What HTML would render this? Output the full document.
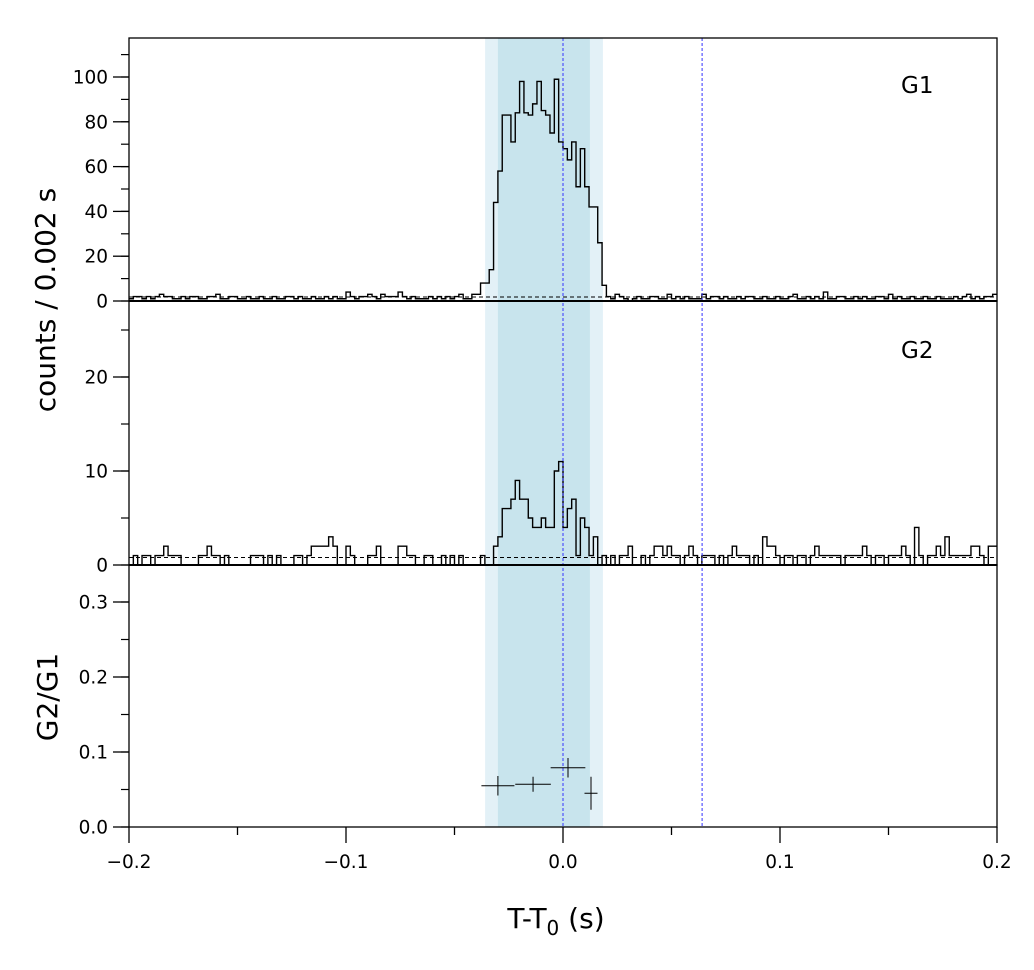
<!DOCTYPE html>
<html><head><meta charset="utf-8"><style>
html,body{margin:0;padding:0;background:#fff}
svg text{font-family:"DejaVu Sans","Liberation Sans",sans-serif;fill:#000}
</style></head><body>
<svg id="chart" width="1034" height="965" viewBox="0 0 1034 965" xmlns="http://www.w3.org/2000/svg"></svg>
<script>
const binWidth = 0.002;
const tStart = -0.2;
const g1Counts = [1,2,2,1,2,1,2,3,2,2,1,1,2,1,2,2,1,1,2,2,
3,1,1,2,2,1,1,2,1,1,2,1,1,2,1,1,2,2,1,2,
1,1,2,1,1,2,1,2,1,1,4,2,1,2,2,3,2,1,3,2,
2,2,4,2,1,2,1,1,1,2,1,2,1,2,1,2,3,1,1,3,
3,8,8,14,44,58,83,83,71,84,98,84,83,88,98,85,83,75,99,71,68,63,71,51,68,51,42,42,26,7,
2,1,3,2,1,0,1,2,1,1,2,2,1,1,3,1,2,1,2,1,
1,1,3,1,2,2,1,2,1,1,2,1,2,2,1,1,2,1,1,2,
1,1,2,3,1,1,2,1,2,1,4,1,1,2,2,1,1,2,1,2,
1,1,2,2,1,3,1,2,1,1,2,1,1,2,1,1,2,1,1,1,
2,1,2,3,1,2,1,2,2,3];
const g2Counts = [0,1,0,1,1,0,1,1,2,1,1,1,0,0,0,0,1,1,2,1,
1,0,1,0,0,0,0,0,1,1,1,0,1,0,1,0,0,0,1,1,
0,1,2,2,2,2,3,2,0,0,2,1,0,0,0,1,1,2,0,0,
0,0,2,2,1,1,0,0,1,1,0,0,1,0,1,0,1,0,0,0,
0,1,0,0,2,3,6,6,7,9,7,7,5,4,4,5,4,4,10,11,4,6,7,1,5,4,1,3,0,1,
0,1,0,1,1,2,0,0,1,0,1,2,2,1,2,1,1,0,1,2,
1,0,1,1,1,0,1,0,1,2,1,1,1,0,1,0,3,2,2,1,
0,1,1,0,1,1,0,1,2,1,1,1,1,1,0,1,1,1,1,2,
1,0,1,1,0,1,1,1,2,1,0,4,1,0,1,1,2,1,3,1,
1,1,1,1,2,2,1,0,2,2];
const g1Bkg = 1.8, g2Bkg = 0.8;
const ratioT = [-0.030, -0.0138, 0.0023, 0.0129];
const ratioTErr = [0.0076, 0.0082, 0.0080, 0.0030];
const ratioV = [0.055, 0.057, 0.079, 0.045];
const ratioVErr = [0.013, 0.010, 0.013, 0.022];
const bandOuter = [-0.0359, 0.0184];
const bandInner = [-0.030, 0.0124];
const vLines = [0.0, 0.0641];
const xTicks = [-0.2, -0.1, 0.0, 0.1, 0.2];
const xTickLabels = ["\u22120.2","\u22120.1","0.0","0.1","0.2"];
const g1Ticks = [0,20,40,60,80,100];
const g2Ticks = [0,10,20];
const rTicks = [0,0.1,0.2,0.3];
const rTickLabels = ["0.0","0.1","0.2","0.3"];

const NS="http://www.w3.org/2000/svg";
const svg=document.getElementById('chart');
const L=129,R=997;
const X=t=>L+(t-tStart)/0.4*(R-L);
const P1={top:38,bot:301,max:(301-38)/2.24};
const P2={top:301,bot:565,max:(565-301)/9.4};
const P3={top:565,bot:827,max:(827-565)/750};
const Y=(p,v)=>p.bot-v/p.max*(p.bot-p.top);
function mk(tag,attrs,parent){const e=document.createElementNS(NS,tag);for(const k in attrs)e.setAttribute(k,attrs[k]);(parent||svg).appendChild(e);return e;}

[P1,P2,P3].forEach((p,i)=>{
  let r=mk('rect',{x:X(bandOuter[0]),y:p.top,width:X(bandOuter[1])-X(bandOuter[0]),height:p.bot-p.top,fill:'#e3f1f7'});
  
  
  let r2=mk('rect',{x:X(bandInner[0]),y:p.top,width:X(bandInner[1])-X(bandInner[0]),height:p.bot-p.top,fill:'#c8e4ed'});
  
  
});
function hist(counts,p,name){
  let d='M'+X(tStart)+','+Y(p,counts[0]);
  counts.forEach((c,i)=>{const x0=X(tStart+i*binWidth),x1=X(tStart+(i+1)*binWidth);d+=' L'+x0+','+Y(p,c)+' L'+x1+','+Y(p,c);});
  const e=mk('path',{d:d,fill:'none',stroke:'#000','stroke-width':1.4});
  
  
}
hist(g1Counts,P1,'g1-histogram');
hist(g2Counts,P2,'g2-histogram');
[[P1,g1Bkg,'g1-background-line'],[P2,g2Bkg,'g2-background-line']].forEach(([p,b,n])=>{
  const e=mk('line',{x1:L,x2:R,y1:Y(p,b),y2:Y(p,b),stroke:'#000','stroke-width':1,'stroke-dasharray':'4,3'});
  
  
});
vLines.forEach(t=>{
  const e=mk('line',{x1:X(t),x2:X(t),y1:38,y2:827,stroke:'#3333ff','stroke-width':1,'stroke-dasharray':'3,2'});
  
  
});
ratioT.forEach((t,i)=>{
  const g=mk('g',{stroke:'#000','stroke-width':1});
  
  
  mk('line',{x1:X(t-ratioTErr[i]),x2:X(t+ratioTErr[i]),y1:Y(P3,ratioV[i]),y2:Y(P3,ratioV[i])},g);
  mk('line',{x1:X(t),x2:X(t),y1:Y(P3,ratioV[i]-ratioVErr[i]),y2:Y(P3,ratioV[i]+ratioVErr[i])},g);
});
[P1,P2,P3].forEach((p,i)=>{
  const e=mk('rect',{x:L,y:p.top,width:R-L,height:p.bot-p.top,fill:'none',stroke:'#000','stroke-width':1.3});
  
  
});
[P1,P2].forEach(p=>{mk('line',{x1:L,x2:R,y1:p.bot,y2:p.bot,stroke:'#000','stroke-width':2});});
function yAxis(p,ticks,labels,minorStep,name){
  const g=mk('g',{});
  
  
  for(let v=0;v<=p.max+1e-9;v+=minorStep){mk('line',{x1:L-8,x2:L,y1:Y(p,v),y2:Y(p,v),stroke:'#000','stroke-width':1.2},g);}
  ticks.forEach((v,i)=>{
    mk('line',{x1:L-16,x2:L,y1:Y(p,v),y2:Y(p,v),stroke:'#000','stroke-width':1.3},g);
    const t=mk('text',{x:L-21,y:Y(p,v)+6.5,'text-anchor':'end','font-size':18.5},g);t.textContent=labels[i];
  });
}
yAxis(P1,g1Ticks,g1Ticks.map(String),10,'g1-y-axis');
yAxis(P2,g2Ticks,g2Ticks.map(String),5,'g2-y-axis');
yAxis(P3,rTicks,rTickLabels,0.05,'ratio-y-axis');
const gx=mk('g',{});


for(let k=0;k<=8;k++){const t=tStart+k*0.05;mk('line',{x1:X(t),x2:X(t),y1:827,y2:k%2?835:843,stroke:'#000','stroke-width':1.3},gx);}
xTicks.forEach((t,i)=>{const e=mk('text',{x:X(t),y:868,'text-anchor':'middle','font-size':18.5},gx);e.textContent=xTickLabels[i];});
function txt(s,attrs,name){const e=mk('text',attrs);e.textContent=s;return e;}
txt('G1',{x:901,y:93,'font-size':23},'g1-label');
txt('G2',{x:901,y:358,'font-size':23},'g2-label');
txt('counts /  0.002 s',{x:0,y:0,'font-size':28,'text-anchor':'middle',transform:'translate(55,300) rotate(-90)'},'y-axis-title');
txt('G2/G1',{x:0,y:0,'font-size':28,'text-anchor':'middle',transform:'translate(57,697) rotate(-90)'},'ratio-axis-title');
const xl=mk('text',{x:556,y:928,'text-anchor':'middle','font-size':28});


xl.innerHTML='T-T<tspan font-size="20" dy="7">0</tspan><tspan dy="-7"> (s)</tspan>';
</script>
</body></html>
